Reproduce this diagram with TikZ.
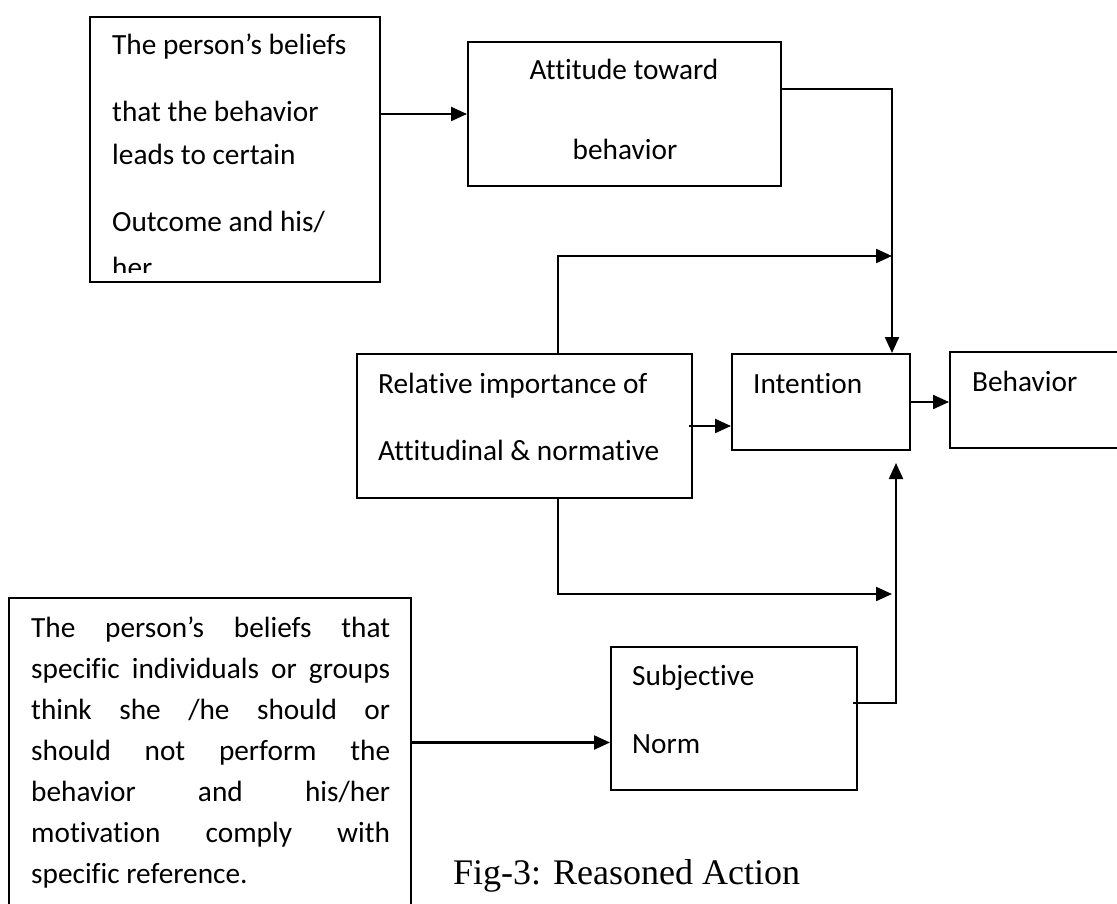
\documentclass[tikz,border=0pt]{standalone}
\usepackage{fontspec}
\setmainfont{Carlito}[Ligatures=CommonOff]
\newfontfamily\capfont{Liberation Serif}
\usetikzlibrary{arrows.meta,calc}
\begin{document}
\begin{tikzpicture}[x=1pt,y=-1pt,
  box/.style={draw,line width=2pt,inner sep=0pt},
  txt/.style={inner sep=0pt,font=\fontsize{29.3}{34}\selectfont},
  arr/.style={line width=2.2pt,-{Triangle[length=16pt,width=14pt]}}]
\useasboundingbox (0,0) rectangle (1117,904);
\clip (0,0) rectangle (1117,904);
% boxes
\node[box,minimum width=290pt,minimum height=265pt] (b1) at (235,149.5) {};
\node[box,minimum width=313pt,minimum height=144pt] (att) at (624.5,114) {};
\node[box,minimum width=335pt,minimum height=144pt] (rel) at (524.5,426) {};
\node[box,minimum width=178pt,minimum height=96pt] (int) at (821,402) {};
\node[box,minimum width=180pt,minimum height=96pt] (beh) at (1040,400) {};
\node[box,minimum width=402pt,minimum height=332pt] (b2) at (210,764) {};
\node[box,minimum width=246pt,minimum height=143pt] (subj) at (734,718.5) {};
% texts
\node[txt,anchor=base west] (t1a) at (112,55) {The person’s beliefs};
\node[txt,anchor=base west] (t1b) at (112,122) {that the behavior};
\node[txt,anchor=base west] (t1c) at (112,165) {leads to certain};
\node[txt,anchor=base west] (t1d) at (112,232) {Outcome and his/};
\begin{scope}
\clip (92,19) rectangle (378,273);
\node[txt,anchor=base west] (t1e) at (112,277) {her};
\end{scope}
\node[txt,anchor=base] (t2a) at (624,80) {Attitude toward};
\node[txt,anchor=base] (t2b) at (625,160) {behavior};
\node[txt,anchor=base west] (t3a) at (378,393) {Relative importance of};
\node[txt,anchor=base west] (t3b) at (378,460) {Attitudinal \& normative};
\node[txt,anchor=base west] (t4) at (753,393) {Intention};
\node[txt,anchor=base west] (t5) at (972,391) {Behavior};
\node[txt,anchor=base west] (t6a) at (632,685) {Subjective};
\node[txt,anchor=base west] (t6b) at (632,753) {Norm};
\foreach \t [count=\i] in {The person’s beliefs that,specific individuals or groups,think she /he should or,should not perform the,behavior and his/her,motivation comply with}
  \node[txt,anchor=base west] (b2l\i) at (31,596+41*\i) {\makebox[359pt][s]{\t}};
\node[txt,anchor=base west] (b2l7) at (31,883) {specific reference.};
\node[inner sep=0pt,anchor=base west,font=\capfont\fontsize{36}{40}\selectfont] (cap) at (453,884) {Fig-3: Reasoned Action};
% junction coordinates
\coordinate (vx1) at (892,0);
\coordinate (j1) at (892,256);
\coordinate (j2) at (892,594);
\coordinate (j3) at (896,463);
\coordinate (sy) at ([yshift=-24pt]subj.west);
% connectors
\draw[arr] (b1.east |- att.west) -- (att.west);
\draw[arr] ([yshift=25pt]att.east) -| (vx1 |- int.north);
\draw[arr] ([xshift=33.5pt]rel.north) |- (j1);
\draw[arr] ([xshift=33.5pt]rel.south) |- (j2);
\draw[arr] ([xshift=-4pt]rel.east) -- (int.west |- rel.east);
\draw[arr] (int.east) -- (beh.west |- int.east);
\draw[arr] ([xshift=-5pt,yshift=15.5pt]subj.east) -| (j3);
\draw[arr] (b2.east |- sy) -- (sy);
\end{tikzpicture}
\end{document}
